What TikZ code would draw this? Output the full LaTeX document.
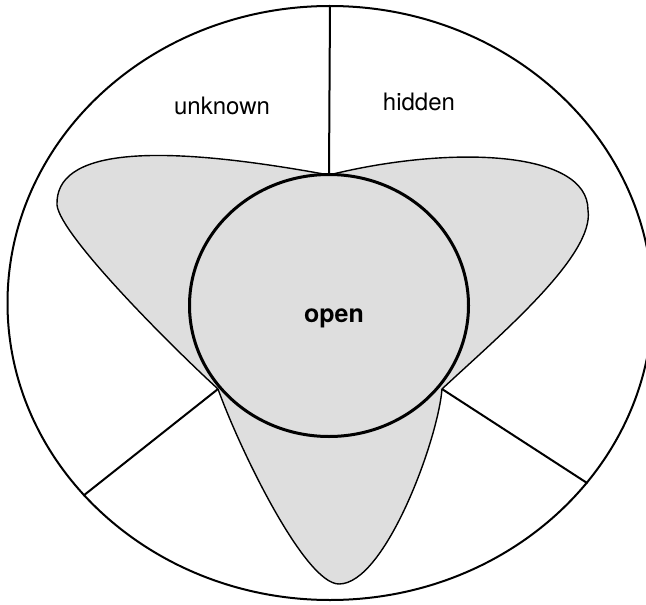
\documentclass[tikz,border=0pt]{standalone}
\usepackage{fontspec}
\setmainfont{TeX Gyre Heros}
\usetikzlibrary{shapes.geometric}

\begin{document}
\begin{tikzpicture}[x=1pt,y=-1pt,
  region/.style={draw,ellipse,inner sep=0pt,line width=2pt},
  lobe/.style={fill=black!13,draw,line width=1.4pt,line join=round},
  divider/.style={line width=2pt},
  tag/.style={font=\fontsize{24}{28}\selectfont}]
\useasboundingbox (0,0) rectangle (646,605);
\node[region,minimum width=645pt,minimum height=594pt] (field) at (330,303) {};
\coordinate (tcusp) at (329,175);
\coordinate (lcusp) at (218,389);
\coordinate (rcusp) at (442,389);
\filldraw[lobe] (tcusp) .. controls (150,142) and (55,150) .. (57,205)
  .. controls (60,235) and (170,345) .. (lcusp)
  .. controls (240,450) and (305,584) .. (339,584)
  .. controls (385,584) and (438,440) .. (rcusp)
  .. controls (500,335) and (595,255) .. (588,210)
  .. controls (588,150) and (450,145) .. (tcusp) -- cycle;
\node[region,line width=3pt,minimum width=279pt,minimum height=262pt] (opencirc) at (329,305.5) {};
\draw[divider] (field.north) -- (tcusp);
\draw[divider] (lcusp) -- (field.218.5);
\draw[divider] (rcusp) -- (field.325.4);
\node[tag] (unknown) at (222,106) {unknown};
\node[tag] (hidden) at (419,102) {hidden};
\node[tag,font=\fontsize{25}{28}\selectfont\bfseries] (open) at (334,318) {open};
\end{tikzpicture}
\end{document}
